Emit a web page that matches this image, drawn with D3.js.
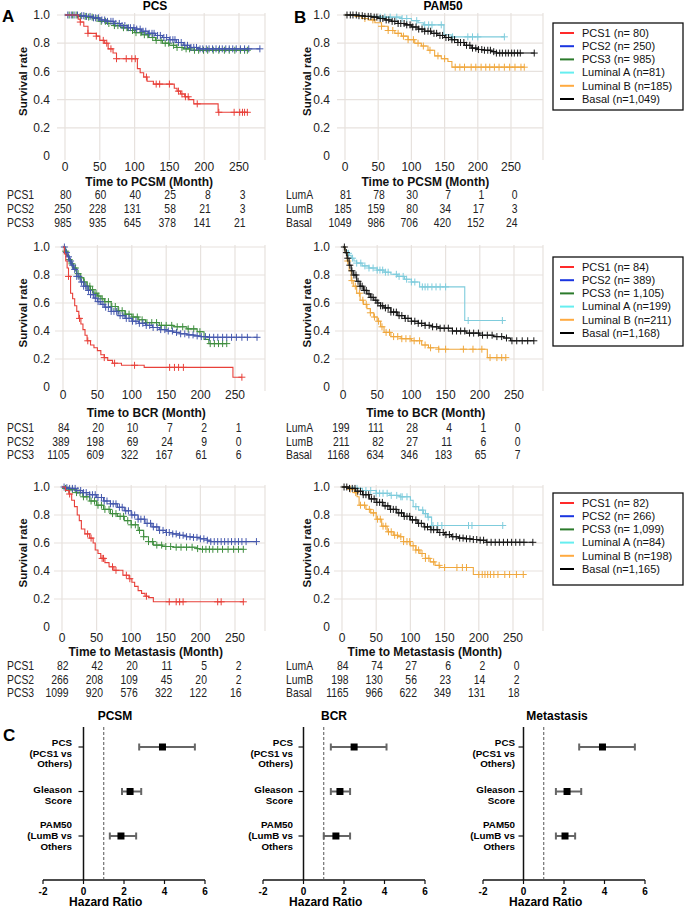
<!DOCTYPE html>
<html><head><meta charset="utf-8">
<script src="https://cdn.jsdelivr.net/npm/d3@7"></script>
<style>body{margin:0;background:#fff;} svg{font-family:Arial,"Liberation Sans",sans-serif;}</style>
</head><body><svg id="c" width="685" height="908"></svg>
<script>
// ---------------- DATA ----------------
const xTicks = [0,50,100,150,200,250];
const yTicks = [0,0.2,0.4,0.6,0.8,1.0];
const yTickLabels = ["0","0.2","0.4","0.6","0.8","1.0"];
const endpoints = ["PCSM","BCR","Metastasis"];
const xTitles = ["Time to PCSM (Month)","Time to BCR (Month)","Time to Metastasis (Month)"];
const pcsGroups = ["PCS1","PCS2","PCS3"];
const pamGroups = ["LumA","LumB","Basal"];

// Kaplan-Meier step knots (time, survival), censor times
const pcsm_pcs1_t = [0,19,22,27,33,45,50,57,62,69,74,104,108,113,118,127,157,161,166,172,178,185,220];
const pcsm_pcs1_s = [1,0.97,0.95,0.92,0.87,0.85,0.82,0.80,0.76,0.73,0.69,0.62,0.59,0.56,0.53,0.51,0.48,0.46,0.44,0.42,0.40,0.37,0.31];
const pcsm_pcs1_c = [22,33,45,55,60,66,74,88,96,101,117,131,136,150,163,168,173,177,190,221,243,251,255,258,262];
const pcsm_pcs2_t = [0,20,30,40,50,60,70,80,90,100,110,120,130,140,150,160,170,180,190];
const pcsm_pcs2_s = [1,0.995,0.99,0.98,0.965,0.955,0.94,0.925,0.91,0.9,0.885,0.87,0.855,0.84,0.825,0.805,0.785,0.77,0.76];
const pcsm_pcs2_c = [4,9,13,18,24,27,31,36,41,44,48,53,57,61,66,69,73,78,82,86,91,94,99,103,108,112,116,121,125,128,133,137,142,146,151,155,158,163,167,172,176,181,185,189,194,198,203,207,212,217,222,226,231,236,241,246,252,258,264,280];
const pcsm_pcs3_t = [0,20,30,40,50,60,70,80,90,100,110,120,130,140,150,160,170,180];
const pcsm_pcs3_s = [1,0.99,0.985,0.975,0.955,0.94,0.925,0.91,0.89,0.875,0.86,0.84,0.82,0.8,0.785,0.77,0.76,0.75];
const pcsm_pcs3_c = [6,11,16,22,29,34,39,46,52,58,63,71,76,84,89,97,102,109,114,119,126,131,138,144,149,156,161,168,174,179,186,192,199,205,213,221,229,236,244,252,258,262];
const pcsm_luma_t = [0,22,50,85,100,110,118,149,160];
const pcsm_luma_s = [1,0.99,0.985,0.975,0.96,0.945,0.93,0.86,0.845];
const pcsm_luma_c = [53,60,68,78,86,93,108,120,126,131,145,162,185,192,200,240];
const pcsm_lumb_t = [0,15,25,35,45,55,65,75,85,95,105,115,125,135,145,155,161];
const pcsm_lumb_s = [1,0.99,0.975,0.965,0.945,0.92,0.89,0.87,0.85,0.825,0.80,0.78,0.75,0.71,0.69,0.67,0.63];
const pcsm_lumb_c = [30,42,55,65,72,80,88,95,103,110,118,128,140,150,166,173,180,190,197,205,212,218,225,232,240,248,256,265,270];
const pcsm_basal_t = [0,20,30,40,50,60,70,80,90,100,110,120,130,140,150,160,170,180,190,200,210,220,228];
const pcsm_basal_s = [1,0.995,0.99,0.985,0.975,0.965,0.955,0.94,0.93,0.915,0.9,0.885,0.87,0.855,0.84,0.825,0.805,0.785,0.765,0.755,0.75,0.74,0.73];
const pcsm_basal_c = [3,8,12,17,21,26,30,35,39,44,48,53,57,62,66,71,75,80,84,89,93,98,102,107,111,116,120,125,129,134,138,143,147,152,156,161,165,170,174,179,183,188,192,197,201,206,210,215,219,224,228,233,237,242,246,251,255,260,264,285];

const bcr_pcs1_t = [0,2,4,6,8,11,14,17,20,23,26,29,32,35,40,45,50,55,60,65,72,85,118,247];
const bcr_pcs1_s = [1,0.95,0.9,0.85,0.79,0.67,0.63,0.58,0.54,0.49,0.45,0.41,0.37,0.33,0.30,0.28,0.26,0.23,0.21,0.19,0.17,0.155,0.14,0.07];
const bcr_pcs1_c = [8,24,36,60,75,104,155,162,168,175,260];
const bcr_pcs2_t = [0,3,6,9,12,15,20,25,30,35,40,45,50,55,60,70,80,90,100,110,120,130,140,150,160,170,180,190,200,210];
const bcr_pcs2_s = [1,0.96,0.93,0.9,0.87,0.84,0.79,0.75,0.72,0.69,0.66,0.635,0.61,0.59,0.57,0.54,0.51,0.49,0.47,0.455,0.44,0.425,0.41,0.40,0.39,0.38,0.372,0.365,0.36,0.355];
const bcr_pcs2_c = [2,5,8,11,14,17,20,23,27,30,33,37,40,44,47,51,54,58,62,66,70,74,78,83,87,92,96,101,106,111,116,121,126,131,137,142,148,153,159,165,171,177,183,189,195,201,207,213,219,225,232,238,245,252,260,268,282];
const bcr_pcs3_t = [0,3,6,9,12,15,20,25,30,35,40,45,50,55,60,70,80,90,100,110,120,140,160,180,195,205,212];
const bcr_pcs3_s = [1,0.97,0.94,0.91,0.88,0.85,0.81,0.78,0.75,0.72,0.695,0.67,0.65,0.63,0.61,0.575,0.545,0.52,0.5,0.48,0.46,0.44,0.43,0.415,0.395,0.34,0.31];
const bcr_pcs3_c = [4,9,13,18,22,26,31,35,39,43,48,52,57,61,66,71,76,81,86,91,96,102,108,115,122,129,136,143,150,158,166,174,182,190,199,214,220,226,232,238];
const bcr_luma_t = [0,3,6,9,12,16,20,28,38,50,60,70,80,90,100,112,178];
const bcr_luma_s = [1,0.975,0.955,0.94,0.92,0.9,0.885,0.865,0.85,0.835,0.82,0.805,0.79,0.77,0.75,0.715,0.475];
const bcr_luma_c = [8,14,20,26,32,38,44,50,54,58,62,66,78,82,88,93,100,105,116,120,124,130,136,142,150,183,233];
const bcr_lumb_t = [0,3,6,9,12,15,20,25,30,35,40,45,50,55,60,70,85,100,115,125,140,211];
const bcr_lumb_s = [1,0.96,0.9,0.83,0.76,0.72,0.67,0.62,0.59,0.56,0.53,0.50,0.47,0.43,0.39,0.36,0.345,0.33,0.30,0.28,0.27,0.21];
const bcr_lumb_c = [7,13,18,24,29,34,40,46,52,57,63,68,74,80,86,92,98,104,112,120,128,140,150,176,190,203,215,225,232,238];
const bcr_basal_t = [0,3,6,9,12,15,20,25,30,35,40,45,50,55,60,70,80,90,100,110,120,130,140,160,180,200,220,235,245];
const bcr_basal_s = [1,0.96,0.92,0.87,0.83,0.80,0.755,0.72,0.69,0.665,0.64,0.62,0.60,0.58,0.565,0.535,0.51,0.49,0.47,0.455,0.44,0.43,0.42,0.40,0.385,0.37,0.36,0.35,0.33];
const bcr_basal_c = [2,5,7,10,13,16,19,22,25,28,31,34,38,41,44,48,51,55,58,62,66,70,74,78,82,86,91,95,100,105,110,115,120,126,131,137,142,148,154,160,166,172,178,185,191,198,204,211,218,225,232,239,247,254,262,270,279];

const meta_pcs1_t = [0,5,10,14,18,22,25,28,33,40,45,48,52,56,62,68,75,88,97,101,105,110,115,120,125,132];
const meta_pcs1_s = [1,0.975,0.95,0.905,0.86,0.80,0.76,0.70,0.665,0.635,0.60,0.55,0.525,0.49,0.46,0.43,0.405,0.37,0.345,0.32,0.29,0.26,0.24,0.22,0.21,0.18];
const meta_pcs1_c = [11,37,42,58,60,73,78,93,98,122,155,165,170,175,225,230,262];
const meta_pcs2_t = [0,5,10,20,30,40,50,60,70,80,90,100,110,120,130,140,150,160,170,180,190,200,210,215];
const meta_pcs2_s = [1,0.995,0.99,0.975,0.96,0.945,0.925,0.9,0.88,0.855,0.83,0.8,0.77,0.74,0.715,0.69,0.675,0.665,0.655,0.645,0.64,0.63,0.62,0.61];
const meta_pcs2_c = [3,7,11,15,19,23,27,31,35,40,44,48,52,57,61,65,70,74,78,83,87,92,96,101,105,110,114,119,123,128,132,137,141,146,151,155,160,165,170,175,180,185,190,195,200,205,210,215,220,225,230,235,240,245,250,255,260,266,281];
const meta_pcs3_t = [0,5,10,20,30,40,50,60,70,80,90,100,110,118,125,132,145,160,195,200];
const meta_pcs3_s = [1,0.99,0.98,0.96,0.93,0.9,0.87,0.84,0.81,0.79,0.76,0.73,0.69,0.645,0.61,0.585,0.575,0.57,0.56,0.555];
const meta_pcs3_c = [5,10,15,21,26,31,36,42,47,52,57,62,68,73,78,84,89,95,100,106,112,118,125,131,137,144,150,157,165,172,180,188,196,203,208,213,218,225,232,240,248,255,262];
const meta_luma_t = [0,17,30,50,70,85,100,104,112,119,125,131];
const meta_luma_s = [1,0.99,0.975,0.955,0.94,0.93,0.905,0.86,0.835,0.81,0.785,0.725];
const meta_luma_c = [22,35,42,50,55,60,66,72,80,86,88,95,108,118,122,126,133,140,146,185,190,235];
const meta_lumb_t = [0,10,18,22,25,35,42,50,58,66,75,82,90,100,108,114,122,129,136,143,192];
const meta_lumb_s = [1,0.985,0.96,0.93,0.87,0.84,0.815,0.77,0.72,0.68,0.655,0.645,0.61,0.58,0.55,0.525,0.49,0.465,0.44,0.425,0.375];
const meta_lumb_c = [12,20,27,33,40,46,52,56,60,64,68,72,77,81,86,90,95,99,104,108,112,117,122,127,134,142,150,168,176,182,200,205,209,213,217,222,228,238,245,255,265];
const meta_basal_t = [0,10,20,30,40,50,60,70,80,90,100,110,120,130,140,150,160,170,180,190,200,211];
const meta_basal_s = [1,0.99,0.97,0.945,0.915,0.89,0.865,0.84,0.815,0.79,0.765,0.74,0.715,0.695,0.675,0.66,0.645,0.635,0.63,0.625,0.62,0.605];
const meta_basal_c = [3,7,11,15,19,23,27,31,35,39,43,47,51,55,59,63,67,71,75,79,83,87,91,95,99,103,108,112,116,121,125,130,134,139,143,148,152,157,162,167,172,177,182,187,192,197,202,207,212,218,224,230,236,242,248,254,260,266,279];

// number at risk
const riskPCS_PCSM = [[80,60,40,25,8,3],[250,228,131,58,21,3],[985,935,645,378,141,21]];
const riskPAM_PCSM = [[81,78,30,7,1,0],[185,159,80,34,17,3],[1049,986,706,420,152,24]];
const riskPCS_BCR  = [[84,20,10,7,2,1],[389,198,69,24,9,0],[1105,609,322,167,61,6]];
const riskPAM_BCR  = [[199,111,28,4,1,0],[211,82,27,11,6,0],[1168,634,346,183,65,7]];
const riskPCS_Meta = [[82,42,20,11,5,2],[266,208,109,45,20,2],[1099,920,576,322,122,16]];
const riskPAM_Meta = [[84,74,27,6,2,0],[198,130,56,23,14,2],[1165,966,622,349,131,18]];

// legends
const legendPCSM = ["PCS1 (n= 80)","PCS2 (n= 250)","PCS3 (n= 985)","Luminal A (n=81)","Luminal B (n=185)","Basal (n=1,049)"];
const legendBCR  = ["PCS1 (n= 84)","PCS2 (n= 389)","PCS3 (n= 1,105)","Luminal A (n=199)","Luminal B (n=211)","Basal (n=1,168)"];
const legendMeta = ["PCS1 (n= 82)","PCS2 (n= 266)","PCS3 (n= 1,099)","Luminal A (n=84)","Luminal B (n=198)","Basal (n=1,165)"];

// forest plots
const forestRowLabels = [["PCS","(PCS1 vs","Others)"],["Gleason","Score"],["PAM50","(LumB vs","Others"]];
const forestTicks = [-2,0,2,4,6];
const hrPCSM = [3.9,2.3,1.85], loPCSM = [2.75,1.9,1.3], hiPCSM = [5.5,2.85,2.6];
const hrBCR  = [2.5,1.8,1.6],  loBCR  = [1.35,1.35,1.0], hiBCR = [4.1,2.3,2.3];
const hrMeta = [3.9,2.15,2.05], loMeta = [2.75,1.6,1.6], hiMeta = [5.5,2.85,2.55];

// ---------------- DRAWING ----------------
const svg = d3.select("#c");
const plotCol = {PCS1:"#e8403a",PCS2:"#4558ad",PCS3:"#3f8e3f",LumA:"#7fccdc",LumB:"#f0a83e",Basal:"#151515"};
const legCol = ["#ff2a2a","#1a35e0","#2b7a2b","#66eef0","#ffaa40","#000000"];

function mk(t,s,c){return {t,s,c};}
const curves = {
  PCSM:{A:[["PCS3",mk(pcsm_pcs3_t,pcsm_pcs3_s,pcsm_pcs3_c)],["PCS2",mk(pcsm_pcs2_t,pcsm_pcs2_s,pcsm_pcs2_c)],["PCS1",mk(pcsm_pcs1_t,pcsm_pcs1_s,pcsm_pcs1_c)]],
        B:[["LumA",mk(pcsm_luma_t,pcsm_luma_s,pcsm_luma_c)],["LumB",mk(pcsm_lumb_t,pcsm_lumb_s,pcsm_lumb_c)],["Basal",mk(pcsm_basal_t,pcsm_basal_s,pcsm_basal_c)]]},
  BCR:{A:[["PCS3",mk(bcr_pcs3_t,bcr_pcs3_s,bcr_pcs3_c)],["PCS2",mk(bcr_pcs2_t,bcr_pcs2_s,bcr_pcs2_c)],["PCS1",mk(bcr_pcs1_t,bcr_pcs1_s,bcr_pcs1_c)]],
       B:[["LumA",mk(bcr_luma_t,bcr_luma_s,bcr_luma_c)],["LumB",mk(bcr_lumb_t,bcr_lumb_s,bcr_lumb_c)],["Basal",mk(bcr_basal_t,bcr_basal_s,bcr_basal_c)]]},
  Metastasis:{A:[["PCS3",mk(meta_pcs3_t,meta_pcs3_s,meta_pcs3_c)],["PCS2",mk(meta_pcs2_t,meta_pcs2_s,meta_pcs2_c)],["PCS1",mk(meta_pcs1_t,meta_pcs1_s,meta_pcs1_c)]],
       B:[["LumA",mk(meta_luma_t,meta_luma_s,meta_luma_c)],["LumB",mk(meta_lumb_t,meta_lumb_s,meta_lumb_c)],["Basal",mk(meta_basal_t,meta_basal_s,meta_basal_c)]]}
};
const risks = {PCSM:{A:riskPCS_PCSM,B:riskPAM_PCSM},BCR:{A:riskPCS_BCR,B:riskPAM_BCR},Metastasis:{A:riskPCS_Meta,B:riskPAM_Meta}};
const legends = [legendPCSM,legendBCR,legendMeta];

const rows = [
  {yTop:15, yBot:156, tickY:167, titleY:182, riskY:[195,209,223], A:[65,239], B:[345,511], legY:23, legH:87},
  {yTop:247,yBot:387, tickY:395, titleY:413, riskY:[428,442,455], A:[63,235], B:[343,514], legY:257, legH:89},
  {yTop:487,yBot:627, tickY:638, titleY:652, riskY:[666,679.5,693], A:[62,235], B:[342,513], legY:493, legH:92}
];
const panelRight = {A:265, B:543};
const ylabRight = {A:50, B:330};
const riskLabelX = {A:7, B:286};
const narrow = 0.83;

function stepAt(cv,t){let v=cv.s[0];for(let i=0;i<cv.t.length;i++){if(cv.t[i]<=t)v=cv.s[i];}return v;}

rows.forEach((r,ri)=>{
  const ep = endpoints[ri];
  ["A","B"].forEach(side=>{
    const x = d3.scaleLinear().domain([0,250]).range(side==="A"?r.A:r.B);
    const y = d3.scaleLinear().domain([0,1]).range([r.yBot,r.yTop]);
    const g = svg.append("g");
    const left = x(0)-8, right = panelRight[side];
    yTicks.filter(v=>v>0).forEach(v=>{
      g.append("line").attr("x1",left).attr("x2",right).attr("y1",y(v)).attr("y2",y(v)).attr("stroke","#e7e2de").attr("stroke-width",1.2);
    });
    xTicks.forEach(v=>{
      g.append("line").attr("x1",x(v)).attr("x2",x(v)).attr("y1",y(1)-2).attr("y2",y(0)+4).attr("stroke","#e7e2de").attr("stroke-width",1.2);
    });
    g.append("line").attr("x1",right).attr("x2",right).attr("y1",y(1)-2).attr("y2",y(0)+4).attr("stroke","#e7e2de").attr("stroke-width",1.2);
    yTicks.forEach((v,i)=>{
      g.append("text").attr("x",ylabRight[side]).attr("y",y(v)).attr("dy","0.35em").attr("text-anchor","end")
       .attr("font-size",12).attr("fill","#222").text(yTickLabels[i]);
    });
    xTicks.forEach(v=>{
      g.append("text").attr("x",x(v)).attr("y",r.tickY).attr("dy","0.35em").attr("text-anchor","middle")
       .attr("font-size",12).attr("fill","#222").text(v);
    });
    g.append("text").attr("x",x(121)).attr("y",r.titleY).attr("dy","0.35em").attr("text-anchor","middle")
      .attr("font-size",12).attr("font-weight","bold").attr("fill","#111").text(xTitles[ri]);
    const ymid = (r.yTop+r.yBot)/2-4;
    const yl = side==="A"?23:307;
    g.append("text").attr("transform",`translate(${yl},${ymid}) rotate(-90)`).attr("dy","0.35em").attr("text-anchor","middle")
      .attr("font-size",11.5).attr("font-weight","bold").attr("fill","#111").text("Survival rate");
    const line = d3.line().x(d=>x(d[0])).y(d=>y(d[1]));
    curves[ep][side].forEach(([name,cv])=>{
      const pts=[[cv.t[0],cv.s[0]]];
      for(let i=1;i<cv.t.length;i++){pts.push([cv.t[i],cv.s[i-1]]);pts.push([cv.t[i],cv.s[i]]);}
      const end = d3.max(cv.c);
      pts.push([end,cv.s[cv.s.length-1]]);
      g.append("path").attr("d",line(pts)).attr("fill","none").attr("stroke",plotCol[name]).attr("stroke-width",1.1);
      g.append("g").selectAll("path").data(cv.c).join("path")
        .attr("transform",c=>`translate(${x(c)},${y(stepAt(cv,c))})`)
        .attr("d","M-3.5,0H3.5M0,-3.5V3.5").attr("stroke",plotCol[name]).attr("stroke-width",1).attr("fill","none");
    });
    const groups = side==="A"?pcsGroups:pamGroups;
    risks[ep][side].forEach((vals,gi)=>{
      g.append("text").attr("transform",`translate(${riskLabelX[side]},${r.riskY[gi]}) scale(${narrow},1)`).attr("dy","0.35em")
        .attr("font-size",12.5).attr("fill","#222").text(groups[gi]);
      vals.forEach((v,k)=>{
        g.append("text").attr("transform",`translate(${x(xTicks[k])+6.5},${r.riskY[gi]}) scale(${narrow},1)`).attr("dy","0.35em").attr("text-anchor","end")
          .attr("font-size",12.5).attr("fill","#222").text(v);
      });
    });
  });
  const lg = svg.append("g");
  lg.append("rect").attr("x",553).attr("y",r.legY).attr("width",130).attr("height",r.legH).attr("fill","#fff").attr("stroke","#111").attr("stroke-width",1.3);
  legends[ri].forEach((lab,i)=>{
    const yy = r.legY+10+i*13.2;
    lg.append("line").attr("x1",560).attr("x2",574).attr("y1",yy).attr("y2",yy).attr("stroke",legCol[i]).attr("stroke-width",2);
    lg.append("text").attr("x",582).attr("y",yy).attr("dy","0.35em").attr("font-size",11).attr("fill","#111").text(lab);
  });
});

svg.append("text").attr("x",2).attr("y",22).attr("font-size",17).attr("font-weight","bold").text("A");
svg.append("text").attr("x",294).attr("y",23).attr("font-size",17).attr("font-weight","bold").text("B");
svg.append("text").attr("x",155).attr("y",10).attr("text-anchor","middle").attr("font-size",12).attr("font-weight","bold").text("PCS");
svg.append("text").attr("x",443).attr("y",10).attr("text-anchor","middle").attr("font-size",12).attr("font-weight","bold").text("PAM50");
svg.append("text").attr("x",3).attr("y",741).attr("font-size",17).attr("font-weight","bold").text("C");

const forests = [
  {title:"PCSM", hr:hrPCSM, lo:loPCSM, hi:hiPCSM, range:[43,205], labX:72, titleX:115},
  {title:"BCR", hr:hrBCR, lo:loBCR, hi:hiBCR, range:[263,425], labX:293, titleX:334},
  {title:"Metastasis", hr:hrMeta, lo:loMeta, hi:hiMeta, range:[483,645], labX:515, titleX:557}
];
const labOffsets = [[-4,6.5,17],[-2,9],[-11,0,11]];
forests.forEach(f=>{
  const g = svg.append("g");
  const x = d3.scaleLinear().domain([-2,6]).range(f.range);
  const y = d3.scaleLinear().domain([0,2]).range([747,836]);
  const yAxisTop = 727, yAxisBot = 880;
  g.append("text").attr("x",f.titleX).attr("y",720).attr("text-anchor","middle").attr("font-size",12).attr("font-weight","bold").text(f.title);
  g.append("line").attr("x1",x(-2)).attr("x2",x(6)).attr("y1",yAxisBot).attr("y2",yAxisBot).attr("stroke","#111").attr("stroke-width",1.3);
  forestTicks.forEach(v=>{
    g.append("line").attr("x1",x(v)).attr("x2",x(v)).attr("y1",yAxisBot).attr("y2",yAxisBot+4).attr("stroke","#111").attr("stroke-width",1.2);
    g.append("text").attr("x",x(v)).attr("y",891).attr("dy","0.35em").attr("text-anchor","middle").attr("font-size",10).attr("font-weight","bold").text(v);
  });
  g.append("text").attr("x",x(1.1)).attr("y",902).attr("dy","0.35em").attr("text-anchor","middle").attr("font-size",12).attr("font-weight","bold").text("Hazard Ratio");
  g.append("line").attr("x1",x(0)).attr("x2",x(0)).attr("y1",yAxisTop).attr("y2",yAxisBot).attr("stroke","#111").attr("stroke-width",1.5);
  g.append("line").attr("x1",x(1)).attr("x2",x(1)).attr("y1",yAxisTop).attr("y2",yAxisBot).attr("stroke","#555").attr("stroke-width",1).attr("stroke-dasharray","3,2");
  f.hr.forEach((h,i)=>{
    const yy = y(i);
    g.append("line").attr("x1",x(0)-5).attr("x2",x(0)).attr("y1",yy).attr("y2",yy).attr("stroke","#111").attr("stroke-width",1.2);
    forestRowLabels[i].forEach((ln,k)=>{
      g.append("text").attr("x",f.labX).attr("y",yy+labOffsets[i][k]).attr("dy","0.35em").attr("text-anchor","end")
       .attr("font-size",9.8).attr("font-weight","bold").text(ln);
    });
    g.append("line").attr("x1",x(f.lo[i])).attr("x2",x(f.hi[i])).attr("y1",yy).attr("y2",yy).attr("stroke","#666").attr("stroke-width",2);
    [f.lo[i],f.hi[i]].forEach(v=>{
      g.append("line").attr("x1",x(v)).attr("x2",x(v)).attr("y1",yy-3.5).attr("y2",yy+3.5).attr("stroke","#666").attr("stroke-width",2);
    });
    g.append("rect").attr("x",x(h)-3.5).attr("y",yy-3.5).attr("width",7).attr("height",7).attr("fill","#000");
  });
});
</script></body></html>
